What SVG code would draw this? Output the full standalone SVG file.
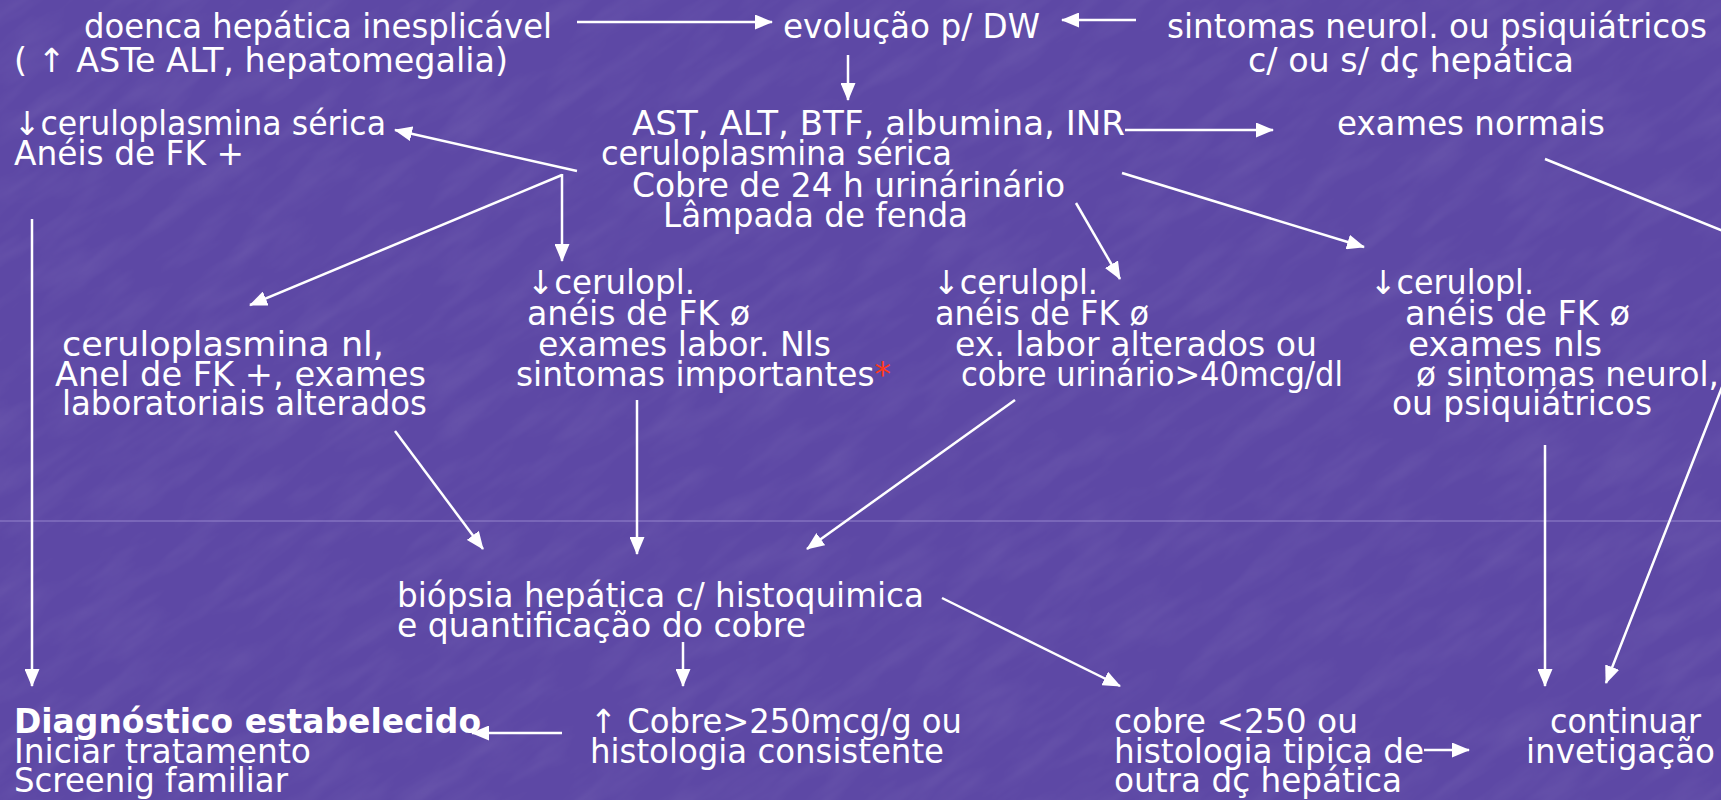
<svg xmlns="http://www.w3.org/2000/svg" width="1721" height="800" viewBox="0 0 1721 800">
<style>
.t{font-family:"DejaVu Sans","Liberation Sans",sans-serif;font-size:33px;fill:#ffffff;}
.b{font-weight:bold;}
.c{stroke:#ffffff;stroke-width:2.5;fill:none;}
.a{marker-end:url(#ah);}
.red{fill:#ff3a1a;}
</style>
<defs>
<marker id="ah" markerUnits="userSpaceOnUse" markerWidth="18" markerHeight="15" refX="17" refY="7.5" orient="auto">
<path d="M0,0 L18,7.5 L0,15 z" fill="#ffffff"/>
</marker>
<filter id="tex" x="0" y="0" width="100%" height="100%">
<feTurbulence type="fractalNoise" baseFrequency="0.012 0.05" numOctaves="3" seed="7" result="n"/>
<feColorMatrix in="n" type="matrix" values="0 0 0 0 1  0 0 0 0 1  0 0 0 0 1  0 0 0 0.55 -0.22"/>
</filter>
</defs>
<rect width="1721" height="800" fill="#5d48a5"/>
<g transform="rotate(-35 860 400)" opacity="0.2"><rect x="-400" y="-600" width="2600" height="2000" filter="url(#tex)"/></g>
<line x1="0" y1="521" x2="1721" y2="521" stroke="#a293d6" stroke-width="1" opacity="0.8"/>

<g id="connectors">
<line class="c a" x1="577" y1="22" x2="772" y2="22"/>
<line class="c a" x1="1136" y1="20" x2="1062" y2="20"/>
<line class="c a" x1="848" y1="55" x2="848" y2="100"/>
<line class="c a" x1="1125" y1="130" x2="1273" y2="130"/>
<line class="c a" x1="577" y1="171" x2="395" y2="130"/>
<line class="c a" x1="562" y1="175" x2="250" y2="305"/>
<line class="c a" x1="562" y1="174" x2="562" y2="261"/>
<line class="c a" x1="1076" y1="203" x2="1120" y2="279"/>
<line class="c a" x1="1122" y1="173" x2="1364" y2="247"/>
<polyline class="c a" points="1545,159 1775,252 1606,683"/>
<line class="c a" x1="32" y1="219" x2="32" y2="686"/>
<line class="c a" x1="395" y1="431" x2="483" y2="549"/>
<line class="c a" x1="637" y1="400" x2="637" y2="554"/>
<line class="c a" x1="1015" y1="400" x2="807" y2="549"/>
<line class="c a" x1="1545" y1="445" x2="1545" y2="686"/>
<line class="c a" x1="683" y1="642" x2="683" y2="686"/>
<line class="c a" x1="942" y1="598" x2="1120" y2="686"/>
<line class="c a" x1="562" y1="733" x2="472" y2="733"/>
<line class="c a" x1="1424" y1="750" x2="1469" y2="750"/>
</g>

<g id="n-doenca">
<text class="t" x="84" y="38" textLength="468" lengthAdjust="spacingAndGlyphs">doenca hepática inesplicável</text>
<text class="t" x="14" y="72" textLength="494" lengthAdjust="spacingAndGlyphs">( ↑ ASTe ALT, hepatomegalia)</text>
</g>
<g id="n-evolucao">
<text class="t" x="783" y="38" textLength="257" lengthAdjust="spacingAndGlyphs">evolução p/ DW</text>
</g>
<g id="n-sintomas">
<text class="t" x="1167" y="38" textLength="540" lengthAdjust="spacingAndGlyphs">sintomas neurol. ou psiquiátricos</text>
<text class="t" x="1248" y="72" textLength="326" lengthAdjust="spacingAndGlyphs">c/ ou s/ dç hepática</text>
</g>
<g id="n-ceruloplasmina">
<text class="t" x="14" y="135" textLength="372" lengthAdjust="spacingAndGlyphs">↓ceruloplasmina sérica</text>
<text class="t" x="14" y="165" textLength="230" lengthAdjust="spacingAndGlyphs">Anéis de FK +</text>
</g>
<g id="n-exames">
<text class="t" x="632" y="135" textLength="493" lengthAdjust="spacingAndGlyphs">AST, ALT, BTF, albumina, INR</text>
<text class="t" x="601" y="165" textLength="351" lengthAdjust="spacingAndGlyphs">ceruloplasmina sérica</text>
<text class="t" x="632" y="197" textLength="433" lengthAdjust="spacingAndGlyphs">Cobre de 24 h urinárinário</text>
<text class="t" x="663" y="227" textLength="305" lengthAdjust="spacingAndGlyphs">Lâmpada de fenda</text>
</g>
<g id="n-normais">
<text class="t" x="1337" y="135" textLength="268" lengthAdjust="spacingAndGlyphs">exames normais</text>
</g>
<g id="n-cerulonl">
<text class="t" x="62" y="356" textLength="322" lengthAdjust="spacingAndGlyphs">ceruloplasmina nl,</text>
<text class="t" x="55" y="386" textLength="371" lengthAdjust="spacingAndGlyphs">Anel de FK +, exames</text>
<text class="t" x="62" y="415" textLength="365" lengthAdjust="spacingAndGlyphs">laboratoriais alterados</text>
</g>
<g id="n-cerulopl1">
<text class="t" x="527" y="294" textLength="168" lengthAdjust="spacingAndGlyphs">↓cerulopl.</text>
<text class="t" x="527" y="325" textLength="223" lengthAdjust="spacingAndGlyphs">anéis de FK ø</text>
<text class="t" x="538" y="356" textLength="293" lengthAdjust="spacingAndGlyphs">exames labor. Nls</text>
<text class="t" x="516" y="386" textLength="375" lengthAdjust="spacingAndGlyphs">sintomas importantes<tspan class="red">*</tspan></text>
</g>
<g id="n-cerulopl2">
<text class="t" x="933" y="294" textLength="165" lengthAdjust="spacingAndGlyphs">↓cerulopl.</text>
<text class="t" x="935" y="325" textLength="214" lengthAdjust="spacingAndGlyphs">anéis de FK ø</text>
<text class="t" x="955" y="356" textLength="362" lengthAdjust="spacingAndGlyphs">ex. labor alterados ou</text>
<text class="t" x="961" y="386" textLength="382" lengthAdjust="spacingAndGlyphs">cobre urinário&gt;40mcg/dl</text>
</g>
<g id="n-cerulopl3">
<text class="t" x="1370" y="294" textLength="164" lengthAdjust="spacingAndGlyphs">↓cerulopl.</text>
<text class="t" x="1405" y="325" textLength="225" lengthAdjust="spacingAndGlyphs">anéis de FK ø</text>
<text class="t" x="1408" y="356" textLength="194" lengthAdjust="spacingAndGlyphs">exames nls</text>
<text class="t" x="1416" y="386" textLength="303" lengthAdjust="spacingAndGlyphs">ø sintomas neurol,</text>
<text class="t" x="1392" y="415" textLength="260" lengthAdjust="spacingAndGlyphs">ou psiquiátricos</text>
</g>
<g id="n-biopsia">
<text class="t" x="397" y="607" textLength="527" lengthAdjust="spacingAndGlyphs">biópsia hepática c/ histoquimica</text>
<text class="t" x="397" y="637" textLength="409" lengthAdjust="spacingAndGlyphs">e quantificação do cobre</text>
</g>
<g id="n-diagnostico">
<text class="t b" x="14" y="733" textLength="467" lengthAdjust="spacingAndGlyphs">Diagnóstico estabelecido</text>
<text class="t" x="14" y="763" textLength="297" lengthAdjust="spacingAndGlyphs">Iniciar tratamento</text>
<text class="t" x="14" y="792" textLength="274" lengthAdjust="spacingAndGlyphs">Screenig familiar</text>
</g>
<g id="n-cobre-alto">
<text class="t" x="590" y="733" textLength="372" lengthAdjust="spacingAndGlyphs">↑ Cobre&gt;250mcg/g ou</text>
<text class="t" x="590" y="763" textLength="354" lengthAdjust="spacingAndGlyphs">histologia consistente</text>
</g>
<g id="n-cobre-baixo">
<text class="t" x="1114" y="733" textLength="244" lengthAdjust="spacingAndGlyphs">cobre &lt;250 ou</text>
<text class="t" x="1114" y="763" textLength="310" lengthAdjust="spacingAndGlyphs">histologia tipica de</text>
<text class="t" x="1114" y="792" textLength="288" lengthAdjust="spacingAndGlyphs">outra dç hepática</text>
</g>
<g id="n-continuar">
<text class="t" x="1550" y="733" textLength="151" lengthAdjust="spacingAndGlyphs">continuar</text>
<text class="t" x="1526" y="763" textLength="189" lengthAdjust="spacingAndGlyphs">invetigação</text>
</g>
</svg>
